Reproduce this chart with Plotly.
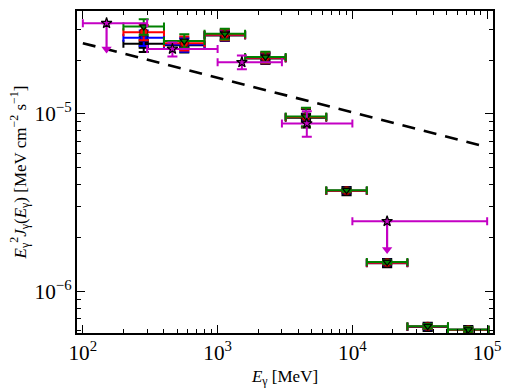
import numpy as np
import plotly.graph_objects as go

# ---- data ----
bin_lo = [200, 400, 800, 1600, 3200, 6400, 12800, 25600, 51200]
bin_hi = [400, 800, 1600, 3200, 6400, 12800, 25600, 51200, 102400]
e_mid = [283, 566, 1131, 2263, 4525, 9051, 18102, 36204, 72408]

black_y = [2.48e-5, 2.43e-5, 2.76e-5, 2.05e-5, 9.50e-6, 3.67e-6, 1.44e-6, 6.30e-7, 6.05e-7]
blue_y = [2.68e-5, 2.46e-5, 2.78e-5, 2.07e-5, 9.60e-6, 3.69e-6, 1.45e-6, 6.33e-7, 6.07e-7]
red_y = [2.88e-5, 2.50e-5, 2.79e-5, 2.07e-5, 9.60e-6, 3.69e-6, 1.45e-6, 6.34e-7, 6.07e-7]
green_y = [3.10e-5, 2.57e-5, 2.82e-5, 2.09e-5, 9.65e-6, 3.71e-6, 1.46e-6, 6.36e-7, 6.09e-7]
rel_err = [0.10, 0.09, 0.07, 0.07, 0.12, 0.02, 0.02, 0.03, 0.03]

mag_x = [150, 462, 1514, 4590, 18100]
mag_lo = [100, 300, 1000, 3000, 10000]
mag_hi = [300, 1000, 3000, 10000, 100000]
mag_y = [3.24e-5, 2.32e-5, 1.95e-5, 8.82e-6, 2.48e-6]
mag_err_up = [0, 2.0e-6, 1.8e-6, 1.5e-6, 0]
mag_err_dn = [0, 2.2e-6, 1.7e-6, 1.4e-6, 0]
ul_x = [150, 18100]
ul_top = [3.24e-5, 2.48e-6]
ul_bot = [2.32e-5, 1.72e-6]

line_x = [100, 100000]
line_y = [2.5e-5, 6.5e-6]

fig = go.Figure()

fig.add_trace(go.Scatter(x=line_x, y=line_y, mode="lines",
                         line=dict(color="black", width=2.6, dash="13px,9px"),
                         showlegend=False))

MAG = "#c400c4"

def series(ys, color, symbol, size, lcol):
    ex_p = [h - m for h, m in zip(bin_hi, e_mid)]
    ex_m = [m - l for l, m in zip(bin_lo, e_mid)]
    ey = [v * r for v, r in zip(ys, rel_err)]
    fig.add_trace(go.Scatter(
        x=e_mid, y=ys, mode="markers",
        marker=dict(symbol=symbol, size=size, color=color,
                    line=dict(color=lcol, width=1.2)),
        error_x=dict(type="data", symmetric=False, array=ex_p, arrayminus=ex_m,
                     color=color, thickness=2, width=4),
        error_y=dict(type="data", array=ey, color=color, thickness=2, width=5),
        showlegend=False))

series(black_y, "black", "square", 9, "black")
series(blue_y, "#0000ff", "square", 7, "#000080")
series(red_y, "#ff0000", "circle", 8, "#800000")
series(green_y, "#008000", "triangle-down", 7, "black")

# magenta upper-limit arrows
for xv, yt, yb in zip(ul_x, ul_top, ul_bot):
    fig.add_trace(go.Scatter(x=[xv, xv], y=[yt, yb], mode="lines",
                             line=dict(color=MAG, width=2.2), showlegend=False))
fig.add_trace(go.Scatter(x=ul_x, y=ul_bot, mode="markers",
                         marker=dict(symbol="triangle-down", size=9, color=MAG),
                         showlegend=False))

fig.add_trace(go.Scatter(
    x=mag_x, y=mag_y, mode="markers",
    marker=dict(symbol="star", size=8, color=MAG, line=dict(color="black", width=1.2)),
    error_x=dict(type="data", symmetric=False,
                 array=[h - x for h, x in zip(mag_hi, mag_x)],
                 arrayminus=[x - l for l, x in zip(mag_lo, mag_x)],
                 color=MAG, thickness=2, width=4),
    error_y=dict(type="data", symmetric=False, array=mag_err_up, arrayminus=mag_err_dn,
                 color=MAG, thickness=2, width=5),
    showlegend=False))

FONT = "Liberation Serif"
axis_common = dict(
    type="log", showgrid=False, zeroline=False,
    showline=True, linecolor="black", linewidth=2, mirror="allticks",
    ticks="inside", ticklen=8, tickwidth=1.3, tickcolor="black",
    exponentformat="power", dtick=1,
    minor=dict(ticks="inside", ticklen=4, tickwidth=1, tickcolor="black", showgrid=False),
    tickfont=dict(family=FONT, size=17, color="black"),
)

fig.update_layout(
    width=510, height=392,
    margin=dict(l=77, r=10, t=9, b=51),
    paper_bgcolor="white", plot_bgcolor="white",
    font=dict(family=FONT, color="black"),
    xaxis=dict(axis_common, range=[np.log10(90.5), np.log10(110500)],
               title=dict(text="<i>E</i><sub>γ</sub> [MeV]", font=dict(family=FONT, size=17),
                          standoff=6)),
    yaxis=dict(axis_common, range=[-6.235, -4.421],
               title=dict(text="<i>E</i><sub>γ</sub><sup>2</sup><i>J</i><sub>γ</sub>(<i>E</i><sub>γ</sub>) [MeV cm<sup>−2</sup> s<sup>−1</sup>]",
                          font=dict(family=FONT, size=17), standoff=4)),
)

fig.write_html("out.html")
